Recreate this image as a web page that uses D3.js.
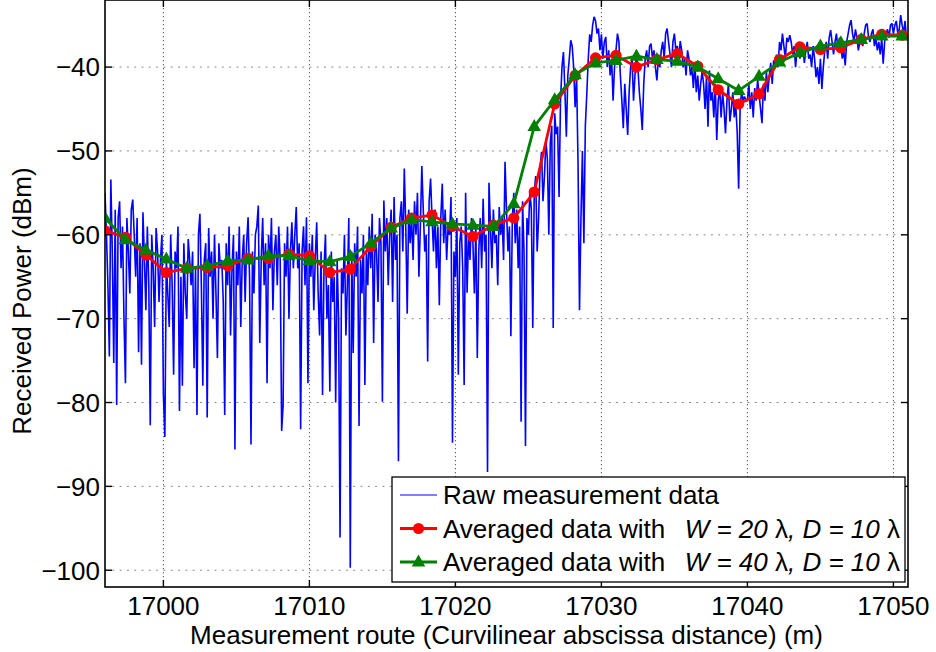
<!DOCTYPE html>
<html><head><meta charset="utf-8">
<script src="https://cdn.jsdelivr.net/npm/d3@7"></script>
<style>
html,body{margin:0;padding:0;background:#fff;}
svg text{font-family:"Liberation Sans",Arial,Helvetica,sans-serif;fill:#000;}
</style></head>
<body><svg id="chart" width="936" height="652"></svg>
<script>
// ---------- data ----------
const xTicks = [17000, 17010, 17020, 17030, 17040, 17050];
const yTicks = [-100, -90, -80, -70, -60, -50, -40];
const xDomain = [16996, 17051];
const yDomain = [-102, -32];

// raw measurement: first abscissa and sample step (m)
const rawStart = 16996;
const rawStep = 0.1;
const rawPower = [
-55,-60,-66,-74.5,-53.4,-62,-75.3,-57,-80.3,-58,
-56,-64,-59,-70,-77.7,-58,-62,-67,-57,-55.8,
-60,-65,-58,-74,-61,-75.5,-57.3,-63,-69,-59,
-66,-82.7,-60,-64,-71,-59.2,-62,-68,-63,-60,
-79,-84.1,-63,-67,-71,-60,-66,-76.7,-62,-64,
-59,-81,-65,-78,-61,-67,-70,-60.5,-63,-66,
-62,-75.9,-64,-81.5,-60,-57.5,-66,-78,-63,-61,
-81.8,-59.2,-65,-62,-70,-60,-67,-74.7,-61,-64,
-63,-68,-81.5,-61,-66,-59,-72,-64,-60,-85.6,
-62,-66,-59,-71,-63,-60,-68,-61,-57.9,-65,
-85,-62,-67,-60,-59,-56.5,-72.9,-63,-58,-66,
-61,-77.7,-60,-64,-58,-69,-62,-60,-66,-59,
-63,-83.4,-80.3,-61,-65,-59,-70,-62,-58.5,-64,
-60,-56.7,-64,-61,-83.2,-62,-59,-66,-57.9,-77.7,
-61,-65,-60,-69,-63,-58.5,-67,-72,-62,-79.1,
-64,-60,-70,-66,-78.7,-62,-68,-65,-80,-63,
-70,-96.1,-64,-67,-60,-72,-66,-58,-99.7,-62,
-74.1,-61,-65,-59,-82.8,-63,-67,-60,-77.9,-62,
-66,-59,-64,-57.5,-72.9,-60,-62,-68,-58,-61,
-79.9,-55.9,-62,-58,-66,-60,-57,-68,-55.5,-63,
-60,-87,-58,-56,-62,-52.1,-59,-69.4,-57,-61,
-58,-63,-56,-60,-55,-65,-59,-51.8,-57,-62,
-60,-75.1,-56,-53.3,-58,-62,-57,-64,-59,-68.4,
-58,-53.9,-61,-57,-63,-59,-60,-55.5,-84.8,-62,
-65,-58,-76.7,-61,-59,-64,-77.9,-55,-66.9,-60,
-63,-58,-61,-67,-59,-74.7,-62,-58,-64,-55.7,
-62,-60,-88.3,-53.8,-59,-64,-57,-61,-60,-66,
-56.7,-60,-58,-63,-51.3,-57,-62,-59,-72.1,-58,
-55,-61,-57,-64,-59,-82.3,-56,-62,-85.2,-58,
-60,-54.7,-57,-71.1,-55,-53,-62,-58,-52,-50.1,
-56,-53,-48.7,-51,-60,-49,-47,-71.1,-45.5,-48,
-47.1,-55.5,-44,-40,-38.2,-42.8,-48.3,-41,-39,-36.8,
-37.5,-40,-44.8,-41,-51.5,-69,-58,-50,-61,-47,
-43.2,-39,-36.1,-37,-35,-34,-34.5,-36,-35.4,-38,
-36.1,-39,-37,-36.4,-40,-38,-41,-39,-44,-40,
-38,-36,-37,-41,-44,-47.3,-42,-45,-48.1,-43,
-40,-39,-44,-41,-38,-40,-43,-45,-47.5,-42,
-39,-38,-40,-37.5,-37.2,-39,-38,-40,-41.6,-39,
-40,-38,-37,-39,-36,-35.4,-37,-38.5,-40,-37,
-36,-38,-37.5,-39,-36.9,-38,-40,-39,-41,-38,
-39,-41,-40,-42.5,-39.5,-43,-41,-44,-42,-40.5,
-42,-45,-41,-47.1,-40.4,-44,-43,-46,-42,-48.7,
-44,-42.5,-46,-43,-45,-47.9,-44,-42,-46.5,-45,
-43,-46,-44.5,-47.7,-54.5,-45,-42.8,-44,-43.5,-44,
-44,-42,-45,-43,-46,-42.5,-44,-41.5,-43.2,-45,
-46.7,-42,-44,-40.5,-43,-41,-39.5,-42,-39.2,-40,
-38.5,-40,-37,-38,-36,-37.5,-39,-36.5,-37,-36.2,
-37,-38.5,-37.5,-40,-38,-37,-39,-38,-37.5,-39.5,
-38,-37,-39,-38.5,-40,-37.5,-39,-41.2,-40,-42,
-39,-42.6,-40,-38,-37,-39,-36.5,-35.6,-37,-38.5,
-37,-36,-38,-36.5,-37.5,-39,-38,-39.8,-37,-36,
-35,-34.4,-36,-37,-35.5,-36.5,-38,-37,-36,-37.5,
-36,-35,-34.8,-36.5,-37,-36,-35.5,-37.5,-36.5,-38,
-37,-38.5,-36.5,-39.6,-37,-36,-35.5,-36.5,-35,-34.8,
-36,-35,-34.5,-36,-35.5,-33.8,-35,-36,-34.5,-36.8,
-36
];

const avgX = [16996.0,16997.4,16998.8,17000.2,17001.6,17003.0,17004.4,17005.8,17007.2,17008.6,
17010.0,17011.4,17012.8,17014.2,17015.6,17017.0,17018.4,17019.8,17021.2,17022.6,
17024.0,17025.4,17026.8,17028.2,17029.6,17031.0,17032.4,17033.8,17035.2,17036.6,
17038.0,17039.4,17040.8,17042.2,17043.6,17045.0,17046.4,17047.8,17049.2,17050.6];
const avgW20 = [-59.5,-60.3,-62.4,-64.5,-64.0,-63.9,-63.7,-62.8,-62.8,-62.3,
-62.5,-64.5,-64.1,-61.4,-59.1,-58.0,-57.65,-59.0,-60.2,-58.85,
-58.0,-54.9,-44.4,-41.0,-38.9,-38.6,-40.0,-39.1,-38.4,-39.9,
-42.7,-44.4,-43.2,-39.1,-37.6,-37.9,-37.7,-36.7,-36.1,-36.2];
const avgW40 = [-58.0,-60.6,-61.8,-62.9,-64.0,-63.7,-63.1,-63.0,-62.5,-62.5,
-63.1,-63.2,-62.6,-61.0,-59.2,-58.2,-58.45,-58.7,-58.85,-59.0,
-56.3,-47.1,-43.9,-40.9,-39.5,-39.2,-38.7,-39.1,-39.3,-40.0,
-41.4,-42.8,-41.1,-39.4,-38.3,-37.5,-37.1,-36.7,-36.3,-36.3];

const xTitle = "Measurement route (Curvilinear abscissa distance) (m)";
const yTitle = "Received Power (dBm)";
const legendRaw = "Raw measurement data";
const legendPrefix = "Averaged data with";
const legendW20 = ["W = 20", ", D = 10"];
const legendW40 = ["W = 40", ", D = 10"];

// ---------- layout ----------
const L = 105, R = 908, T = 0, B = 587;
const FS = 26;
const svg = d3.select("#chart");
const x = d3.scaleLinear().domain(xDomain).range([L, R]);
const y = d3.scaleLinear().domain(yDomain).range([B, T]);
const fmt = v => (v < 0 ? "\u2212" + Math.abs(v) : String(v));

svg.append("rect").attr("width", 936).attr("height", 652).attr("fill", "#fff");
svg.append("defs").append("clipPath").attr("id", "clip")
  .append("rect").attr("x", L).attr("y", T).attr("width", R - L).attr("height", B - T);

// grid
const grid = svg.append("g");
grid.selectAll(".gy").data(yTicks).join("line")
  .attr("x1", L).attr("x2", R).attr("y1", d => y(d)).attr("y2", d => y(d))
  .attr("stroke", "#8a8a8a").attr("stroke-width", 1).attr("stroke-dasharray", "2,5.3");
grid.selectAll(".gx").data(xTicks).join("line")
  .attr("y1", T).attr("y2", B).attr("x1", d => x(d)).attr("x2", d => x(d))
  .attr("stroke", "#555").attr("stroke-width", 1).attr("stroke-dasharray", "1.3,2.7");

// data
const plot = svg.append("g").attr("clip-path", "url(#clip)");
const rawPts = rawPower.map((v, i) => [rawStart + i * rawStep, v]);
plot.append("path").datum(rawPts)
  .attr("d", d3.line().x(d => x(d[0])).y(d => y(d[1])))
  .attr("fill", "none").attr("stroke", "#0000ff").attr("stroke-width", 1.6)
  .attr("stroke-linejoin", "miter").attr("stroke-miterlimit", 2);

const redPts = avgX.map((v, i) => [v, avgW20[i]]);
const greenPts = avgX.map((v, i) => [v, avgW40[i]]);
const lineGen = d3.line().x(d => x(d[0])).y(d => y(d[1]));
const triPath = "M0,-7.5L6.8,4.5L-6.8,4.5Z";

plot.append("path").datum(redPts).attr("d", lineGen)
  .attr("fill", "none").attr("stroke", "#ff0000").attr("stroke-width", 2.8).attr("stroke-linejoin", "round");
plot.selectAll(".rc").data(redPts).join("circle")
  .attr("cx", d => x(d[0])).attr("cy", d => y(d[1])).attr("r", 5.6).attr("fill", "#ff0000");

plot.append("path").datum(greenPts).attr("d", lineGen)
  .attr("fill", "none").attr("stroke", "#008000").attr("stroke-width", 2.8).attr("stroke-linejoin", "round");
plot.selectAll(".gt").data(greenPts).join("path")
  .attr("d", triPath).attr("transform", d => `translate(${x(d[0])},${y(d[1])})`).attr("fill", "#008000");

// axes box & ticks
const ax = svg.append("g");
ax.append("rect").attr("x", L).attr("y", T).attr("width", R - L).attr("height", B - T)
  .attr("fill", "none").attr("stroke", "#000").attr("stroke-width", 1.6);
const tl = 7;
ax.selectAll(".ty").data(yTicks).join("g").each(function (d) {
  const g = d3.select(this);
  g.append("line").attr("x1", L).attr("x2", L + tl).attr("y1", y(d)).attr("y2", y(d)).attr("stroke", "#000").attr("stroke-width", 1.4);
  g.append("line").attr("x1", R).attr("x2", R - tl).attr("y1", y(d)).attr("y2", y(d)).attr("stroke", "#000").attr("stroke-width", 1.4);
  g.append("text").attr("x", L - 5).attr("y", y(d)).attr("dy", "0.36em")
    .attr("text-anchor", "end").attr("font-size", FS).text(fmt(d));
});
ax.selectAll(".tx").data(xTicks).join("g").each(function (d) {
  const g = d3.select(this);
  g.append("line").attr("y1", B).attr("y2", B - tl).attr("x1", x(d)).attr("x2", x(d)).attr("stroke", "#000").attr("stroke-width", 1.4);
  g.append("line").attr("y1", T).attr("y2", T + tl).attr("x1", x(d)).attr("x2", x(d)).attr("stroke", "#000").attr("stroke-width", 1.4);
  g.append("text").attr("x", x(d)).attr("y", 614.5).attr("text-anchor", "middle").attr("font-size", FS).text(d);
});

svg.append("text").attr("x", (L + R) / 2).attr("y", 644).attr("text-anchor", "middle")
  .attr("font-size", FS).text(xTitle);
svg.append("text").attr("transform", "translate(31,301) rotate(-90)").attr("text-anchor", "middle")
  .attr("font-size", FS).text(yTitle);

// legend
const lg = svg.append("g");
lg.append("rect").attr("x", 392).attr("y", 477).attr("width", 513).attr("height", 105)
  .attr("fill", "#fff").attr("stroke", "#000").attr("stroke-width", 1.3);
const rows = [495, 528.5, 562];
const lx1 = 400, lx2 = 437, tx = 443;
lg.append("line").attr("x1", lx1).attr("x2", lx2).attr("y1", rows[0]).attr("y2", rows[0]).attr("stroke", "#0000ff").attr("stroke-width", 1.1);
lg.append("text").attr("x", tx).attr("y", rows[0] + 9).attr("font-size", FS).text(legendRaw);

function mathRow(yc, color, marker, parts) {
  lg.append("line").attr("x1", lx1).attr("x2", lx2).attr("y1", yc).attr("y2", yc).attr("stroke", color).attr("stroke-width", 2.8);
  if (marker === "circle") lg.append("circle").attr("cx", (lx1 + lx2) / 2).attr("cy", yc).attr("r", 5.6).attr("fill", color);
  else lg.append("path").attr("d", triPath).attr("transform", `translate(${(lx1 + lx2) / 2},${yc})`).attr("fill", color);
  lg.append("text").attr("x", tx).attr("y", yc + 9).attr("font-size", FS).text(legendPrefix);
  const t = lg.append("text").attr("x", 900).attr("y", yc + 9).attr("font-size", FS).attr("text-anchor", "end");
  t.append("tspan").attr("font-style", "italic").text(parts[0] + " ");
  t.append("tspan").text("\u03bb");
  t.append("tspan").attr("font-style", "italic").text(parts[1] + " ");
  t.append("tspan").text("\u03bb");
}
mathRow(rows[1], "#ff0000", "circle", legendW20);
mathRow(rows[2], "#008000", "tri", legendW40);
</script>
</body></html>
